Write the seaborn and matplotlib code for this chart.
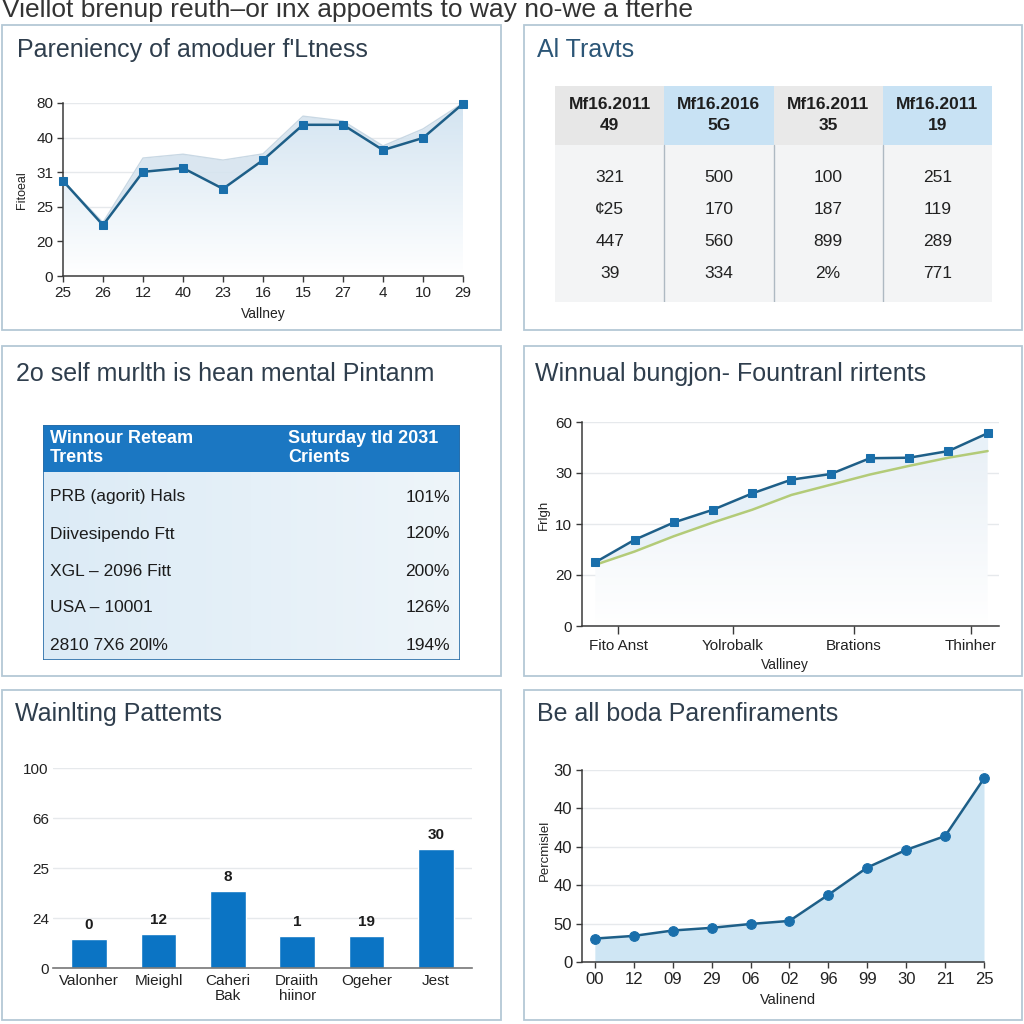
import matplotlib
matplotlib.use("Agg")
import matplotlib.pyplot as plt
import numpy as np
import pandas as pd
import seaborn as sns
from matplotlib.colors import LinearSegmentedColormap
from matplotlib.patches import Rectangle

sns.set_theme(style="white")
plt.rcParams['font.family'] = ['Liberation Sans', 'DejaVu Sans']

# ---- data ----
main_title = "Viellot brenup reuth\u2013or inx appoemts to way no-we a fterhe"

p1_title = "Pareniency of amoduer f'Ltness"
p1_x_labels = ['25', '26', '12', '40', '23', '16', '15', '27', '4', '10', '29']
p1_values = [2.75, 1.47, 3.01, 3.12, 2.52, 3.35, 4.37, 4.37, 3.64, 3.99, 4.98]
p1_upper = [2.75, 1.55, 3.41, 3.52, 3.35, 3.53, 4.62, 4.48, 3.76, 4.25, 5.0]
p1_y_ticks = ['0', '20', '25', '31', '40', '80']

p2_title = "Al Travts"
p2_header = ['Mf16.2011\n49', 'Mf16.2016\n5G', 'Mf16.2011\n35', 'Mf16.2011\n19']
p2_col1 = ['321', '\u00a225', '447', '39']
p2_col2 = ['500', '170', '560', '334']
p2_col3 = ['100', '187', '899', '2%']
p2_col4 = ['251', '119', '289', '771']

p3_title = "2o self murlth is hean mental Pintanm"
p3_header = ['Winnour Reteam\nTrents', 'Suturday tld 2031\nCrients']
p3_names = ['PRB (agorit) Hals', 'Diivesipendo Ftt', 'XGL \u2013 2096 Fitt', 'USA \u2013 10001', '2810 7X6 20l%']
p3_values = ['101%', '120%', '200%', '126%', '194%']

p4_title = "Winnual bungjon- Fountranl rirtents"
p4_blue = [1.25, 1.69, 2.03, 2.28, 2.60, 2.87, 2.98, 3.29, 3.30, 3.43, 3.78]
p4_green = [1.20, 1.46, 1.76, 2.03, 2.28, 2.57, 2.77, 2.97, 3.14, 3.30, 3.43]
p4_y_ticks = ['0', '20', '10', '30', '60']
p4_x_labels = ['Fito Anst', 'Yolrobalk', 'Brations', 'Thinher']

p5_title = "Wainlting Pattemts"
p5_cats = ['Valonher', 'Mieighl', 'Caheri\nBak', 'Draiith\nhiinor', 'Ogeher', 'Jest']
p5_heights = [0.59, 0.69, 1.55, 0.65, 0.65, 2.39]
p5_bar_labels = ['0', '12', '8', '1', '19', '30']
p5_y_ticks = ['0', '24', '25', '66', '100']

p6_title = "Be all boda Parenfiraments"
p6_x_labels = ['00', '12', '09', '29', '06', '02', '96', '99', '30', '21', '25']
p6_values = [0.61, 0.68, 0.82, 0.89, 0.99, 1.07, 1.75, 2.46, 2.92, 3.28, 4.78]
p6_y_ticks = ['0', '50', '40', '40', '40', '30']

# ---- styling ----
W = H = 1024
TITLE_C = '#2f3e4d'
LINE_C = '#1e5f88'
MARK_C = '#1a6fab'
BORDER_C = '#b4c8d6'
GRID_C = '#e6e9ec'

fig = plt.figure(figsize=(W / 100, H / 100), dpi=100)
fig.patch.set_facecolor('white')


def px_axes(x0, y0, x1, y1):
    return fig.add_axes([x0 / W, 1 - y1 / H, (x1 - x0) / W, (y1 - y0) / H])


def ftext(x, y, s, **kw):
    return fig.text(x / W, 1 - y / H, s, **kw)


def panel(x0, y0, x1, y1, title, tx, ty, tcolor=TITLE_C):
    fig.patches.append(Rectangle((x0 / W, 1 - y1 / H), (x1 - x0) / W, (y1 - y0) / H,
                                 transform=fig.transFigure, facecolor='none',
                                 edgecolor=BORDER_C, lw=1.3, zorder=-1))
    ftext(tx, ty, title, fontsize=18, color=tcolor, va='center', ha='left')


def gradient_fill(ax, x, y, color, ymax):
    poly = ax.fill_between(x, y, 0, color='none', lw=0)
    cmap = LinearSegmentedColormap.from_list('g', ['#ffffff', color])
    img = np.linspace(0, 1, 256)[:, None]
    im = ax.imshow(img, aspect='auto', extent=[min(x), max(x), 0, ymax], origin='lower',
                   cmap=cmap, zorder=1)
    im.set_clip_path(poly.get_paths()[0], transform=ax.transData)


def style_line_axes(ax):
    ax.set_facecolor('none')
    for s in ['top', 'right']:
        ax.spines[s].set_visible(False)
    for s in ['left', 'bottom']:
        ax.spines[s].set_color('#3a3a3a')
        ax.spines[s].set_linewidth(1.1)
    ax.tick_params(axis='both', which='both', direction='out', length=4, width=1,
                   color='#3a3a3a', labelsize=11, labelcolor='#222222', pad=3,
                   bottom=True, left=True)
    ax.grid(axis='y', color=GRID_C, lw=1)
    ax.set_axisbelow(True)
    ax.set_xlabel('')
    ax.set_ylabel('')


ftext(2, 10, main_title, fontsize=19, color='#333333', va='center', ha='left')

# ---- panel 1: line with band ----
panel(2, 25, 501, 330, p1_title, 17, 50)
ax1 = px_axes(63, 103, 463, 276)
x1 = np.arange(len(p1_values))
gradient_fill(ax1, x1, p1_values, '#d3e4f1', 5)
ax1.fill_between(x1, p1_values, p1_upper, color='#d6e4ef', alpha=0.9, lw=0, zorder=1)
ax1.plot(x1, p1_upper, color='#c9d8e4', lw=1, zorder=1)
df1 = pd.DataFrame({'x': x1, 'y': p1_values})
sns.lineplot(data=df1, x='x', y='y', ax=ax1, color=LINE_C, lw=1.8, marker='s',
             markersize=6, markerfacecolor=MARK_C, markeredgecolor=MARK_C, zorder=3,
             clip_on=False)
ax1.set_xlim(0, 10)
ax1.set_ylim(0, 5)
ax1.set_xticks(x1, p1_x_labels)
ax1.set_yticks(range(len(p1_y_ticks)), p1_y_ticks)
style_line_axes(ax1)
ftext(263, 314, 'Vallney', fontsize=10, color='#222222', ha='center', va='center')
ftext(22, 190, 'Fitoeal', fontsize=9, color='#222222', ha='center', va='center', rotation=90)

# ---- panel 2: table ----
panel(524, 25, 1022, 330, p2_title, 537, 50, tcolor='#2c5677')
ax2 = px_axes(555, 86, 992, 302)
ax2.set_xlim(0, 4)
ax2.set_ylim(216, 0)
ax2.axis('off')
head_bg = ['#e7e7e7', '#c8e2f4', '#e9e9e9', '#c8e2f4']
columns = [p2_col1, p2_col2, p2_col3, p2_col4]
ax2.add_patch(Rectangle((0, 59), 4, 157, facecolor='#f3f4f5', lw=0))
for i, (hdr, col) in enumerate(zip(p2_header, columns)):
    ax2.add_patch(Rectangle((i, 0), 1, 59, facecolor=head_bg[i], lw=0))
    ax2.text(i + 0.5, 29, hdr, ha='center', va='center', fontsize=12.5, fontweight='bold',
             color='#1f1f1f', linespacing=1.5)
    for j, val in enumerate(col):
        ax2.text(i + 0.5, 91 + j * 32, val, ha='center', va='center', fontsize=12.5, color='#222222')
    if i > 0:
        ax2.plot([i, i], [59, 216], color='#aeb9c2', lw=1)

# ---- panel 3: table ----
panel(2, 346, 501, 676, p3_title, 16, 374)
ax3 = px_axes(43, 425, 460, 660)
ax3.axis('off')
body_cmap = LinearSegmentedColormap.from_list('b', ['#dcebf6', '#eef5fa'])
ax3.imshow(np.linspace(0, 1, 64)[None, :], extent=[0, 417, 235, 47], aspect='auto',
           cmap=body_cmap, zorder=0)
ax3.add_patch(Rectangle((0, 0), 417, 47, facecolor='#1b77c2', lw=0, zorder=1))
ax3.add_patch(Rectangle((0, 0), 417, 235, facecolor='none', edgecolor='#2a6ea8', lw=1.2, zorder=2))
ax3.set_xlim(0, 417)
ax3.set_ylim(235, 0)
ax3.text(7, 23, p3_header[0], ha='left', va='center', fontsize=13, fontweight='bold',
         color='white', linespacing=1.15, zorder=3)
ax3.text(245, 23, p3_header[1], ha='left', va='center', fontsize=13, fontweight='bold',
         color='white', linespacing=1.15, zorder=3)
for j, (name, val) in enumerate(zip(p3_names, p3_values)):
    ax3.text(7, 72 + j * 37, name, ha='left', va='center', fontsize=12.5, color='#1c1c1c', zorder=3)
    ax3.text(407, 72 + j * 37, val, ha='right', va='center', fontsize=12.5, color='#1c1c1c', zorder=3)

# ---- panel 4: two lines ----
panel(524, 346, 1022, 676, p4_title, 535, 374)
ax4 = px_axes(582, 422, 999, 626)
x4 = np.arange(len(p4_blue))
gradient_fill(ax4, x4, p4_green, '#e6eef5', 4)
ax4.fill_between(x4, p4_green, p4_blue, color='#e8f1f8', lw=0, zorder=1)
df4 = pd.DataFrame({'x': np.concatenate([x4, x4]),
                    'y': p4_green + p4_blue,
                    'series': ['green'] * len(x4) + ['blue'] * len(x4)})
sns.lineplot(data=df4[df4.series == 'green'], x='x', y='y', ax=ax4, color='#b3cb78', lw=1.8, zorder=2)
sns.lineplot(data=df4[df4.series == 'blue'], x='x', y='y', ax=ax4, color=LINE_C, lw=1.8,
             marker='s', markersize=6, markerfacecolor=MARK_C, markeredgecolor=MARK_C, zorder=3)
ax4.set_xlim(-0.34, 10.29)
ax4.set_ylim(0, 4)
ax4.set_xticks([0.58, 3.51, 6.59, 9.57], p4_x_labels)
ax4.set_yticks(range(len(p4_y_ticks)), p4_y_ticks)
style_line_axes(ax4)
ax4.tick_params(axis='x', length=6)
ftext(785, 665, 'Valliney', fontsize=10, color='#222222', ha='center', va='center')
ftext(544, 515, 'Frlgh', fontsize=9.5, color='#222222', ha='center', va='center', rotation=90)

# ---- panel 5: bars ----
panel(2, 690, 501, 1020, p5_title, 15, 714)
ax5 = px_axes(53, 768, 472, 968)
sns.barplot(x=p5_cats, y=p5_heights, ax=ax5, color='#0b74c4', saturation=1, width=0.51)
ax5.bar_label(ax5.containers[0], labels=p5_bar_labels, padding=5, fontsize=11,
              fontweight='bold', color='#1c1c1c')
ax5.set_xlim(-0.52, 5.52)
ax5.set_ylim(0, 4)
ax5.set_yticks(range(len(p5_y_ticks)), p5_y_ticks)
ax5.set_facecolor('none')
for s in ['top', 'right', 'left']:
    ax5.spines[s].set_visible(False)
ax5.spines['bottom'].set_color('#777777')
ax5.spines['bottom'].set_linewidth(1.2)
ax5.grid(axis='y', color=GRID_C, lw=1)
ax5.set_axisbelow(True)
ax5.tick_params(axis='both', length=0, labelsize=11, labelcolor='#222222', pad=4)
ax5.tick_params(axis='y', pad=3)
for lab in ax5.get_xticklabels():
    lab.set_linespacing(1.15)

# ---- panel 6: area line ----
panel(524, 690, 1022, 1020, p6_title, 537, 714)
ax6 = px_axes(582, 770, 984, 962)
x6 = np.arange(len(p6_values))
ax6.fill_between(x6, p6_values, 0, color='#cfe6f4', lw=0, zorder=1)
df6 = pd.DataFrame({'x': x6, 'y': p6_values})
sns.lineplot(data=df6, x='x', y='y', ax=ax6, color=LINE_C, lw=1.8, marker='o',
             markersize=7, markerfacecolor=MARK_C, markeredgecolor=MARK_C, zorder=3,
             clip_on=False)
ax6.set_xlim(-0.33, 10)
ax6.set_ylim(0, 5)
ax6.set_xticks(x6, p6_x_labels)
ax6.set_yticks(range(len(p6_y_ticks)), p6_y_ticks)
style_line_axes(ax6)
ax6.tick_params(axis='both', labelsize=12)
ftext(788, 1000, 'Valinend', fontsize=10.5, color='#222222', ha='center', va='center')
ftext(545, 850, 'Percmislel', fontsize=9.5, color='#222222', ha='center', va='center', rotation=90)

fig.savefig('out.png', dpi=100, facecolor='white')
